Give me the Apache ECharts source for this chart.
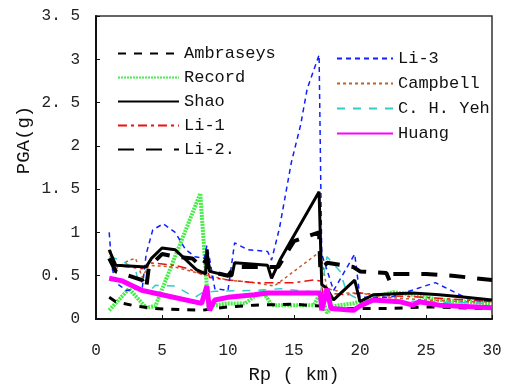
<!DOCTYPE html>
<html>
<head>
<meta charset="utf-8">
<script src="https://cdn.jsdelivr.net/npm/echarts@6/dist/echarts.min.js"></script>
<style>
  html, body { margin: 0; padding: 0; background: #fff; }
  #main { width: 508px; height: 387px; }
</style>
</head>
<body>
<div id="main"></div>
<script>
// Rp (km) / PGA (g) pairs
var ambraseys = [[1,0.25],[1.5,0.2],[3,0.15],[4.5,0.12],[8,0.1],[10,0.14],[12,0.16],[15,0.17],[17,0.15],[18,0.12],[20,0.12],[22,0.12],[25,0.14],[30,0.12]];
var record = [[1,0.1],[2.5,0.35],[3.8,0.13],[4.5,0.15],[7.9,1.45],[8.5,0.15],[10,0.18],[11.3,0.18],[12.6,0.33],[13.3,0.16],[16.5,0.16],[17,0.3],[17.5,0.07],[18,0.15],[19.5,0.18],[21,0.25],[22.5,0.31],[24,0.28],[26,0.22],[30,0.18]];
var shao = [[1,0.8],[1.5,0.62],[3.8,0.6],[4.2,0.7],[5,0.82],[6,0.8],[7.6,0.57],[8.3,0.52],[8.4,0.8],[8.6,0.55],[10,0.5],[10.3,0.5],[10.5,0.65],[13,0.62],[13.3,0.47],[14,0.7],[16.9,1.47],[17.1,0.4],[17.5,0.35],[18,0.22],[19.6,0.45],[20,0.2],[21,0.28],[24,0.3],[26,0.28],[28,0.25],[30,0.22]];
var li1 = [[1,0.78],[1.5,0.62],[3.5,0.58],[4,0.65],[6,0.62],[7,0.58],[8,0.52],[8.4,0.6],[8.6,0.48],[10,0.45],[12,0.42],[15,0.42],[16.5,0.45],[17,0.44],[17.2,0.3],[19,0.28],[20,0.3],[22,0.27],[25,0.25],[28,0.22],[30,0.2]];
var li2 = [[1,0.7],[1.5,0.55],[3.5,0.45],[3.8,0.35],[4,0.6],[5,0.75],[6,0.72],[7.3,0.7],[8,0.6],[8.4,0.7],[8.6,0.55],[10,0.5],[10.5,0.6],[13,0.6],[13.8,0.6],[15,0.9],[16.9,1.0],[17,0.55],[17.5,0.65],[19.5,0.6],[20,0.55],[22,0.53],[22.3,0.42],[22.5,0.52],[25,0.52],[27,0.5],[30,0.45]];
var li3 = [[1,1.0],[1.2,0.6],[1.5,0.42],[2.3,0.33],[3.5,0.35],[3.8,0.75],[4.3,1.03],[5.1,1.1],[6,1.0],[6.8,0.8],[7.5,0.72],[8.2,0.7],[8.4,0.85],[8.6,0.7],[9,0.35],[10,0.33],[10.5,0.88],[11.5,0.8],[13,0.78],[13.3,0.68],[13.9,1.05],[14.8,1.81],[15.5,2.24],[16,2.66],[16.9,3.05],[17.1,0.75],[18,0.33],[19.6,0.75],[20,0.25],[22.3,0.25],[25.7,0.42],[28.1,0.24],[30,0.2]];
var campbell = [[1,0.78],[1.5,0.58],[2.5,0.68],[3,0.7],[3.5,0.48],[4,0.62],[6,0.6],[8,0.52],[10,0.45],[12,0.42],[13.5,0.38],[17,0.78],[17.2,0.6],[17.5,0.35],[19,0.3],[20,0.3],[22,0.25],[25,0.22],[28,0.2],[30,0.2]];
var chyeh = [[1,0.72],[1.9,0.68],[3,0.57],[3.3,0.35],[4,0.31],[4.5,0.39],[6,0.38],[7.5,0.25],[8,0.3],[9,0.32],[12,0.33],[14,0.35],[16,0.32],[17,0.3],[17.5,0.72],[18.5,0.55],[19,0.3],[20,0.22],[25,0.2],[30,0.18]];
var huang = [[1,0.47],[2,0.44],[3.5,0.33],[5,0.28],[8,0.18],[8.4,0.38],[8.6,0.1],[9,0.22],[10,0.25],[12,0.28],[13,0.3],[17,0.3],[17.1,0.1],[17.5,0.35],[17.8,0.12],[19.5,0.1],[20,0.15],[21,0.22],[23,0.2],[24,0.16],[24.5,0.2],[26,0.16],[30,0.13]];

var legendLeft = ['Ambraseys', 'Record', 'Shao', 'Li-1', 'Li-2.'];
var legendRight = ['Li-3', 'Campbell', 'C. H. Yeh', 'Huang'];

var font = 'Liberation Mono';

function line(name, data, color, width, type) {
    return {
        name: name,
        type: 'line',
        data: data,
        symbol: 'none',
        silent: true,
        lineStyle: { color: color, width: width, type: type },
        itemStyle: { color: color }
    };
}

var myChart = echarts.init(document.getElementById('main'));
var option = {
    animation: false,
    backgroundColor: '#fff',
    grid: {
        left: 96, right: 16, top: 16, bottom: 68,
        outerBoundsMode: 'none',
        show: true,
        borderColor: '#333',
        borderWidth: 1.5
    },
    legend: [
        {
            data: legendLeft,
            orient: 'vertical',
            left: 112, top: 40,
            itemWidth: 61, itemHeight: 14,
            itemGap: 7,
            itemStyle: { opacity: 0 },   // 只显示线，不要圆点
            textStyle: { fontFamily: font, fontSize: 17, color: '#111' }
        },
        {
            data: legendRight,
            orient: 'vertical',
            left: 331, top: 45,
            itemWidth: 56, itemHeight: 14,
            itemGap: 8,
            itemStyle: { opacity: 0 },
            textStyle: { fontFamily: font, fontSize: 17, color: '#111' }
        }
    ],
    graphic: [
        {
            type: 'text',
            x: 24, y: 140,
            rotation: Math.PI / 2,
            style: {
                text: 'PGA(g)',
                font: '19px "Liberation Mono"',
                fill: '#111',
                align: 'center',
                verticalAlign: 'middle'
            }
        }
    ],
    xAxis: {
        type: 'value',
        min: 0, max: 30, interval: 5,
        name: 'Rp ( km)',
        nameLocation: 'middle',
        nameGap: 46,
        nameTextStyle: { fontFamily: font, fontSize: 19, color: '#111' },
        axisLine: { lineStyle: { color: '#111', width: 2 } },
        axisTick: { inside: true, length: 4, lineStyle: { color: '#111' } },
        axisLabel: { margin: 24, fontFamily: font, fontSize: 16, color: '#222' },
        splitLine: { show: false }
    },
    yAxis: {
        type: 'value',
        min: 0, max: 3.5, interval: 0.5,
        axisLine: { show: true, lineStyle: { color: '#111', width: 2 } },
        axisTick: { show: true, inside: true, length: 4, lineStyle: { color: '#111' } },
        axisLabel: {
            margin: 16, fontFamily: font, fontSize: 16, color: '#222',
            formatter: function (v) { return String(v).replace('.', '. '); }
        },
        splitLine: { show: false }
    },
    series: [
        line('Record', record, '#44ee44', 4, [2, 1]),
        line('Campbell', campbell, '#c0602a', 1.5, [3, 3]),
        line('Li-1', li1, '#ee1111', 1.5, [9, 4, 3, 4]),
        line('C. H. Yeh', chyeh, '#33cccc', 1.5, [8, 8]),
        line('Li-3', li3, '#1020ff', 1.5, [5, 4]),
        line('Ambraseys', ambraseys, '#000', 3, [8, 8]),
        line('Li-2.', li2, '#000', 4, [16, 12]),
        line('Shao', shao, '#000', 3, 'solid'),
        line('Huang', huang, '#ff00ff', 5, 'solid')
    ]
};
myChart.setOption(option);
</script>
</body>
</html>
